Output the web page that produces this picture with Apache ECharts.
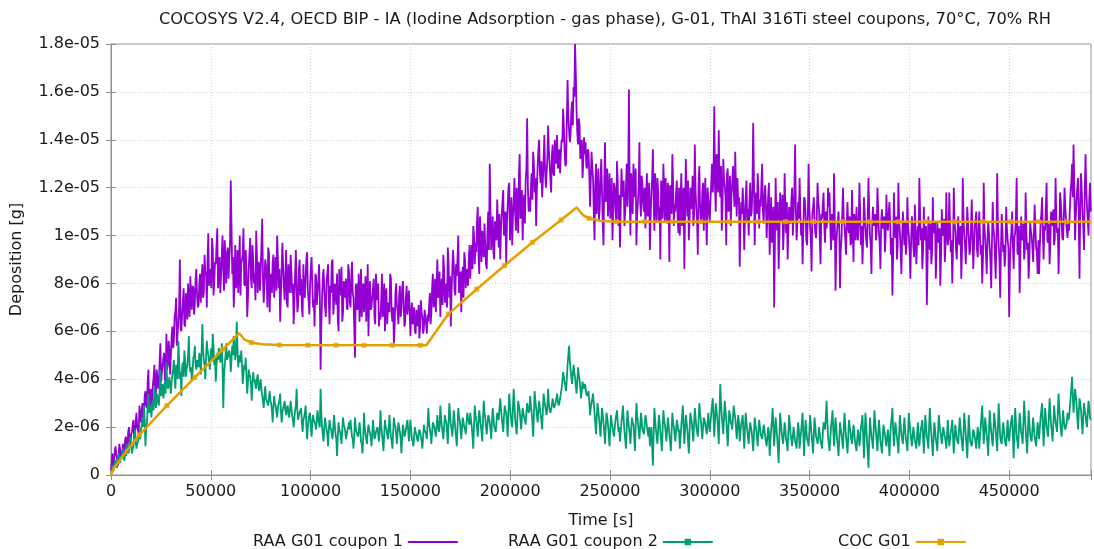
<!DOCTYPE html>
<html>
<head>
<meta charset="utf-8">
<script src="https://cdn.jsdelivr.net/npm/echarts@6/dist/echarts.min.js"></script>
<style>
html,body{margin:0;padding:0;background:#fff;}
#chart{width:1094px;height:549px;}
</style>
</head>
<body>
<div id="chart"></div>
<script>
// ---- data (deposition values in units of 1e-6 g) ----
const TITLE = 'COCOSYS V2.4, OECD BIP - IA (Iodine Adsorption - gas phase), G-01, ThAI 316Ti steel coupons, 70°C, 70% RH';
const X_NAME = 'Time [s]';
const Y_NAME = 'Deposition [g]';
const SERIES_NAMES = ['RAA G01 coupon 1', 'RAA G01 coupon 2', 'COC G01'];
const Y_TICK_LABELS = ['0','2e-06','4e-06','6e-06','8e-06','1e-05','1.2e-05','1.4e-05','1.6e-05','1.8e-05'];
const X_TICKS = [0,50000,100000,150000,200000,250000,300000,350000,400000,450000];
const SAMPLE_DT = 750; // s between samples of each array; the *_mid arrays sit half-way between

// coupon 1, samples at k*750 s
const raa1 = [
 0.2,0.9,0.4,1.2,0.7,0.5,1.1,0.8,1.3,1.0,1.6,1.2,2.0,1.4,1.8,2.3,1.6,2.6,1.9,2.9,
 2.2,3.0,2.6,3.5,2.8,4.4,3.1,2.7,3.8,4.6,3.4,4.1,3.8,5.5,4.3,4.9,4.0,5.9,4.6,5.2,
 5.0,6.2,5.6,6.8,5.4,6.4,9.0,6.0,7.2,6.3,7.6,6.5,7.1,8.3,6.9,7.8,7.2,8.6,7.0,8.0,
 7.2,8.8,7.6,8.4,7.0,10.1,8.2,7.8,9.4,8.1,8.8,10.3,8.4,7.6,9.2,8.6,9.8,8.0,9.5,8.9,
 12.3,8.4,7.0,9.6,8.2,7.6,10.0,8.8,9.2,8.0,9.4,6.6,8.6,9.9,7.8,9.0,8.4,10.2,7.6,8.8,
 8.6,10.7,7.2,9.0,8.1,9.5,6.8,8.4,8.9,7.4,9.1,10.0,7.8,6.4,8.6,8.7,7.3,9.4,7.0,8.2,
 9.2,7.6,6.3,8.4,7.9,7.1,9.0,8.2,6.6,7.8,8.2,9.3,7.3,8.0,9.1,7.0,6.2,8.3,7.6,8.8,
 4.4,7.4,8.6,7.0,8.1,8.8,6.3,7.6,9.0,7.2,8.0,8.4,6.0,7.5,8.7,6.8,7.9,8.2,6.9,8.5,
 7.0,8.9,7.4,4.9,8.0,7.1,6.4,8.6,7.6,6.8,8.3,7.2,5.8,8.1,7.0,7.8,6.6,8.4,7.3,6.2,
 6.5,8.4,7.2,6.0,7.8,7.0,6.8,8.2,6.4,5.5,7.6,7.1,6.3,7.9,6.9,8.1,6.2,7.4,6.7,7.7,
 5.8,7.2,6.4,6.0,6.9,6.2,5.7,7.3,6.6,6.1,6.9,5.9,6.4,7.6,6.8,8.4,7.2,6.8,9.0,7.6,
 6.6,8.2,9.2,7.2,8.0,9.5,7.4,6.2,8.6,8.8,7.5,8.3,10.0,7.9,6.8,8.7,9.3,7.8,8.4,9.0,
 8.2,9.6,10.4,8.8,9.3,11.2,8.4,9.9,10.2,9.1,9.6,8.6,11.0,13.0,9.4,10.8,9.0,10.1,11.5,9.5,
 9.0,10.8,11.9,10.2,8.8,11.3,12.2,10.6,9.6,11.4,10.9,12.0,10.1,13.4,11.2,9.8,11.7,12.3,14.9,11.0,
 11.0,12.6,13.5,11.8,10.4,12.9,14.0,12.2,11.6,13.2,12.7,12.0,14.6,13.0,11.8,13.8,12.5,13.4,14.2,12.9,
 12.6,14.0,15.3,13.6,13.0,16.5,14.4,14.2,15.6,16.2,18.0,15.2,13.8,14.6,13.4,12.4,14.1,13.9,12.8,13.5,
 11.2,13.5,12.4,9.8,13.0,11.6,10.6,12.4,11.9,9.6,13.9,12.0,10.8,12.6,11.4,9.8,12.2,11.0,13.1,10.4,
 9.5,12.8,11.6,10.4,12.0,11.2,16.1,10.0,11.8,13.0,12.2,9.6,11.4,13.9,10.8,12.2,11.0,10.3,12.6,11.5,
 9.4,11.8,13.6,10.2,11.5,12.4,10.6,9.0,11.9,13.0,10.6,11.2,12.2,8.9,11.7,13.4,10.4,11.0,12.3,10.1,
 10.0,12.6,11.3,8.6,13.2,10.8,9.8,12.0,11.4,10.4,13.8,11.1,9.2,12.9,10.6,11.8,10.2,12.4,9.6,11.6,
 10.6,12.2,11.8,15.4,11.0,13.0,14.4,11.6,10.2,13.2,12.1,9.6,12.8,11.4,10.4,12.2,11.9,13.5,10.8,11.3,
 8.7,11.4,12.0,9.4,11.6,10.6,10.0,12.2,11.0,14.7,9.6,11.8,12.6,10.3,11.2,13.0,10.5,12.1,9.9,11.6,
 9.2,11.6,10.4,7.0,12.4,10.2,8.6,11.8,10.7,9.4,12.6,10.1,9.0,11.2,10.5,12.0,10.9,13.8,9.8,11.4,
 12.4,10.0,8.8,11.6,10.9,9.6,13.0,10.4,8.5,11.2,10.6,9.9,12.2,11.1,8.8,10.7,11.8,9.7,10.3,12.0,
 11.8,9.4,10.6,12.6,7.7,10.2,11.0,7.8,9.9,12.0,10.4,9.2,11.4,10.1,9.6,11.9,8.9,10.5,11.2,9.8,
 12.2,9.6,8.8,11.6,10.3,9.5,12.4,10.0,8.4,11.2,10.6,9.8,12.0,10.1,8.6,11.1,10.4,9.3,11.7,10.2,
 11.4,9.2,7.5,11.8,9.9,9.0,12.2,10.1,8.4,11.0,9.6,9.2,11.6,10.0,8.2,10.8,9.5,11.3,8.8,10.4,
 12.4,9.8,8.6,11.2,10.0,7.1,10.8,9.4,8.8,11.6,10.2,8.2,10.6,9.7,7.9,11.1,10.3,8.9,11.8,9.6,
 11.8,9.3,8.0,12.0,10.2,9.0,10.8,9.6,8.2,12.4,10.0,8.8,11.2,9.9,9.4,11.5,8.6,10.4,11.0,9.1,
 11.0,9.2,8.0,12.2,9.8,8.4,10.6,9.5,7.8,11.4,10.0,8.2,12.6,9.6,7.4,10.9,9.3,8.7,11.2,9.8,
 6.6,9.7,11.0,8.6,10.1,12.4,9.2,7.6,10.8,9.9,9.0,11.8,9.4,8.2,10.6,10.0,8.9,11.3,9.5,8.4,
 8.4,10.6,11.6,9.0,10.2,12.2,9.7,8.8,11.0,10.4,9.6,12.4,10.1,8.4,11.8,10.7,9.8,12.0,10.6,9.9,
 10.2,11.8,13.0,13.8,9.8,11.5,12.4,8.2,12.6,10.9,9.4,13.4,11.2,10.0,12.2
];
// coupon 1, samples at k*750+375 s
const raa1_mid = [
 0.6,0.3,1.0,0.9,0.4,1.3,0.7,1.0,0.9,1.5,1.1,1.8,1.3,1.7,2.1,1.5,2.2,2.0,1.7,2.5,
 2.7,2.4,3.3,2.9,3.9,2.6,3.6,3.2,4.1,3.0,4.4,3.6,4.8,3.9,4.6,5.1,3.8,4.4,5.6,4.2,
 5.8,5.3,6.6,7.4,5.9,7.0,6.1,6.7,7.8,6.2,7.0,8.0,6.6,7.4,7.9,6.7,8.2,7.5,7.1,8.4,
 8.0,7.4,9.2,8.5,9.0,7.9,8.6,9.9,7.5,8.9,9.6,7.8,9.1,8.3,10.0,7.7,8.7,9.3,8.2,9.7,
 10.4,9.1,8.1,7.8,9.4,8.6,7.5,9.0,10.3,7.9,8.5,7.4,9.3,8.2,9.6,8.0,7.3,9.1,8.9,7.7,
 9.6,8.3,7.9,8.8,7.0,9.3,8.0,7.6,9.2,8.4,7.7,9.0,8.6,7.5,9.7,7.9,8.3,7.2,8.8,7.6,
 8.5,8.0,7.2,9.4,6.8,8.6,7.5,7.0,8.8,7.4,9.0,7.7,6.7,8.6,7.9,7.3,8.4,7.1,8.1,7.5,
 6.2,8.3,7.7,6.6,8.4,7.3,7.9,8.9,6.7,8.0,7.1,6.5,8.6,7.7,6.4,8.1,7.4,7.0,8.8,7.2,
 8.2,7.6,6.1,7.9,6.9,8.4,7.3,6.6,8.0,7.5,6.4,8.8,7.6,6.9,7.4,8.2,6.3,7.7,8.0,6.8,
 7.3,6.6,8.0,7.5,6.3,7.2,8.4,6.7,7.0,6.2,8.0,6.8,7.5,6.6,7.8,7.2,6.4,7.9,7.1,6.9,
 6.7,6.3,7.0,5.9,6.6,7.1,6.2,6.8,5.9,6.9,6.3,6.7,7.1,6.3,7.8,7.0,8.2,7.9,7.4,8.5,
 7.8,7.1,8.6,8.0,7.0,8.9,8.3,7.6,9.4,7.7,8.8,9.1,7.6,8.5,8.2,7.4,9.0,8.6,7.9,9.6,
 9.0,8.6,10.0,9.7,10.6,9.2,10.8,8.9,9.6,10.5,8.8,10.2,9.4,11.0,10.0,9.3,10.6,9.8,10.4,10.9,
 10.2,11.4,10.0,11.0,10.5,12.0,9.8,11.6,10.8,12.4,10.2,11.2,12.6,10.7,11.9,11.3,10.5,12.8,12.0,11.6,
 12.0,11.5,13.0,12.4,11.9,13.6,12.6,13.1,12.3,14.2,12.0,13.2,13.6,12.4,13.3,12.6,14.0,13.0,12.8,13.6,
 13.4,13.9,14.6,12.9,14.8,15.0,13.9,15.2,14.6,15.8,16.8,14.3,14.9,13.2,14.0,13.1,13.4,12.9,13.6,12.6,
 12.3,12.9,11.0,12.1,10.9,12.8,11.2,13.2,10.5,12.2,11.4,12.8,11.6,10.7,12.4,11.1,12.0,10.6,12.3,11.7,
 11.1,11.9,12.3,11.0,13.0,12.4,11.5,12.6,10.9,11.6,12.8,10.9,12.1,11.4,12.5,11.3,12.0,11.7,10.8,12.2,
 10.8,12.4,11.5,12.6,10.6,11.9,11.2,12.3,10.7,11.8,12.4,10.5,11.6,12.1,10.9,12.2,11.3,11.8,10.8,12.0,
 11.6,10.4,12.0,10.9,11.7,12.3,10.6,11.1,12.5,10.8,11.9,10.7,12.1,11.3,10.5,12.2,11.5,10.8,12.0,10.9,
 11.5,13.0,12.6,12.0,13.4,11.8,12.2,12.9,11.1,12.4,11.6,12.6,11.0,12.5,11.7,12.9,11.2,12.0,12.4,11.6,
 10.5,10.9,11.2,10.6,12.3,11.1,11.5,10.8,12.0,12.4,11.3,10.9,11.8,11.5,12.2,11.0,11.6,11.3,10.8,12.2,
 10.4,9.7,11.2,9.6,10.8,11.4,9.9,10.6,11.7,10.3,11.0,11.4,10.2,10.8,11.5,10.0,11.9,11.1,10.5,10.7,
 11.0,10.6,10.3,11.5,9.8,10.8,11.3,9.9,10.9,11.6,10.1,10.8,11.4,9.8,10.9,11.3,10.4,11.0,10.6,11.2,
 10.4,10.9,9.8,10.8,9.6,10.6,10.3,9.4,10.9,10.7,9.9,10.6,10.3,10.8,9.7,10.4,10.9,9.8,10.3,10.6,
 10.8,10.4,9.9,10.9,9.8,10.7,11.0,9.6,10.5,10.4,10.9,10.2,11.1,9.7,10.6,10.3,10.8,10.0,10.5,10.9,
 10.6,9.9,9.2,10.4,10.8,9.5,10.7,9.4,9.9,10.3,10.6,9.7,10.4,9.3,9.8,10.5,9.1,10.2,9.9,9.6,
 10.9,10.3,9.4,9.8,10.4,8.9,9.9,10.5,9.3,10.1,10.6,9.5,9.9,10.3,9.2,10.0,10.7,9.6,10.2,9.9,
 10.4,9.8,9.5,10.6,9.4,10.1,9.7,10.4,9.3,10.8,9.6,9.9,10.5,9.2,10.3,10.1,9.5,10.6,9.4,10.2,
 10.0,9.6,9.0,10.4,9.2,9.8,10.1,8.9,9.7,10.3,9.1,9.8,10.5,9.0,9.4,10.2,9.6,9.2,10.3,9.5,
 8.8,10.2,9.6,9.9,10.8,9.3,10.4,9.2,9.8,10.5,9.4,10.1,9.7,9.0,10.2,9.5,9.9,10.4,9.3,9.8,
 9.6,10.9,10.1,10.4,11.2,9.8,10.5,9.6,10.8,11.1,9.9,10.7,10.3,10.0,11.4,9.9,10.8,11.2,10.2,10.6,
 11.0,12.2,11.6,12.1,10.8,12.0,10.6,11.3,11.9,10.4,11.8,12.0,10.6,11.5,11.0
];

// coupon 2, samples at k*750 s
const raa2 = [
 0.1,0.4,0.2,0.6,0.3,0.9,0.5,0.7,1.1,0.6,0.8,1.3,1.0,1.6,0.9,1.2,1.9,1.1,1.4,1.7,
 1.9,2.4,2.9,1.2,2.2,3.4,2.6,2.4,3.1,3.7,2.8,3.3,2.9,4.4,3.4,3.2,3.9,4.7,3.6,4.1,
 3.4,4.2,4.8,3.6,4.4,5.6,4.0,3.3,4.7,5.2,4.1,4.6,5.8,4.3,3.9,4.9,5.4,4.4,4.8,5.1,
 4.2,6.3,4.8,4.0,5.6,5.0,4.4,5.3,5.9,4.6,3.9,5.1,5.3,4.7,5.5,2.8,4.6,5.5,4.9,5.2,
 4.3,5.4,5.8,4.8,6.4,4.5,5.0,5.2,3.8,4.6,4.9,3.4,4.4,4.1,3.1,4.3,4.0,3.6,4.2,3.5,
 4.0,3.3,2.8,3.7,3.2,2.9,3.5,3.0,2.2,3.3,2.9,2.4,3.0,3.4,2.2,2.8,3.1,2.5,2.9,2.4,
 3.1,2.5,2.0,2.7,3.6,2.3,2.6,2.8,1.8,2.4,2.9,1.5,2.3,2.6,1.6,2.5,2.2,1.9,2.7,2.1,
 3.6,2.0,1.4,2.4,2.1,1.2,2.3,1.9,1.5,2.5,1.7,0.8,2.2,1.8,1.3,2.4,2.0,1.5,1.9,2.2,
 2.3,1.6,1.1,2.4,1.8,1.6,2.2,1.4,0.9,2.6,1.7,1.3,2.1,1.9,1.2,2.3,1.5,1.8,2.0,1.4,
 2.7,1.7,1.0,2.3,1.9,1.5,2.5,1.6,1.1,2.4,2.0,1.3,2.2,1.8,0.9,2.1,1.6,1.9,2.3,1.4,
 2.3,1.5,1.2,2.0,1.7,1.4,1.9,1.6,1.1,2.1,1.8,1.5,2.8,1.9,1.3,2.2,2.0,1.6,2.5,1.8,
 2.9,2.0,1.5,2.5,2.2,1.3,3.0,2.1,1.6,2.7,1.9,1.2,2.8,2.3,1.5,2.4,2.0,1.7,2.6,2.2,
 2.6,2.0,1.1,2.9,2.3,1.6,2.7,2.1,1.4,3.1,2.4,1.7,2.5,2.2,1.5,2.8,2.0,1.8,2.6,2.3,
 3.2,2.4,1.8,2.9,2.6,1.6,3.4,2.5,2.0,3.6,2.3,1.7,3.1,2.7,1.9,2.8,2.4,2.1,3.0,2.6,
 3.3,2.6,1.6,3.5,2.8,2.2,3.1,2.5,1.9,3.4,2.9,2.5,3.6,2.7,2.6,3.2,2.8,3.0,3.4,2.9,
 3.2,3.6,4.3,3.9,3.5,4.6,5.4,4.4,3.8,4.6,4.1,3.4,4.5,4.0,3.2,3.9,3.6,3.7,3.3,3.5,
 2.5,3.0,3.4,2.6,1.7,3.0,2.4,1.6,2.8,2.2,1.3,2.6,2.1,1.2,2.5,2.0,1.6,2.3,2.7,1.8,
 1.4,2.2,2.9,1.8,1.1,2.7,2.0,1.3,2.4,2.1,1.0,3.0,2.2,1.5,2.6,1.9,1.7,2.5,2.0,1.6,
 1.2,2.0,0.4,2.8,1.9,1.3,2.5,1.8,1.0,2.7,2.1,1.4,2.4,1.7,1.0,2.6,2.0,1.4,2.3,1.8,
 1.1,2.1,2.9,1.3,2.5,1.9,0.9,2.6,2.2,1.4,2.8,2.0,1.6,3.0,2.3,1.5,2.4,2.1,1.7,2.6,
 1.8,2.6,3.2,1.6,3.0,2.4,1.3,3.8,2.5,1.7,3.1,2.3,1.2,2.7,2.2,1.9,2.9,2.4,1.5,2.5,
 1.4,2.1,2.5,1.1,2.6,1.9,1.3,2.2,1.8,1.0,2.4,1.9,1.2,2.3,1.7,1.5,2.1,1.6,1.2,2.0,
 0.8,1.9,2.8,1.2,2.4,1.6,0.5,2.6,1.8,1.3,2.2,1.5,1.0,2.5,1.7,1.2,2.0,1.4,1.1,2.2,
 1.1,1.8,2.6,0.8,2.3,1.5,1.2,2.5,1.7,0.9,2.4,1.6,1.3,2.0,1.4,1.1,2.2,1.9,3.1,1.6,
 1.0,2.0,2.7,1.2,2.4,1.5,0.8,2.2,1.7,1.1,2.6,1.6,0.9,2.3,1.8,1.3,2.1,1.4,1.0,1.9,
 1.2,2.0,2.5,0.7,2.6,1.5,0.3,2.4,1.6,1.1,2.7,1.8,1.0,2.3,1.4,0.9,2.1,1.7,1.2,1.9,
 0.8,2.1,2.8,1.2,2.2,1.6,0.9,2.5,1.7,1.3,2.4,1.5,1.0,2.6,1.8,1.2,2.0,1.4,1.1,2.2,
 1.2,1.9,2.3,0.9,2.5,1.6,1.1,2.8,1.7,0.8,2.2,1.5,1.0,2.5,1.8,1.3,2.0,1.6,1.1,2.3,
 1.2,1.8,2.3,0.9,2.1,1.5,1.3,2.4,1.6,1.0,2.6,1.7,0.7,2.5,1.4,1.2,1.9,1.6,1.1,2.0,
 1.1,2.0,2.9,1.3,2.4,1.7,0.8,2.7,1.8,1.2,2.6,1.9,1.0,3.0,1.6,1.3,2.2,1.5,1.2,2.3,
 1.4,2.1,2.5,0.7,2.8,1.6,1.1,2.6,1.8,1.3,3.1,1.9,0.9,2.7,1.7,1.4,2.4,1.6,1.2,2.2,
 1.5,2.4,3.0,1.2,2.8,2.0,1.6,3.2,2.1,1.4,2.9,2.2,1.8,3.4,2.3,1.6,2.7,2.0,1.9,2.6,
 2.4,3.2,4.1,2.6,3.6,3.0,1.9,3.2,2.7,1.7,3.0,2.5,2.0,3.1,2.4
];
// coupon 2, samples at k*750+375 s
const raa2_mid = [
 0.2,0.3,0.5,0.4,0.7,0.6,0.8,0.9,0.7,1.0,1.1,0.9,1.3,1.2,1.1,1.5,1.4,1.3,1.6,1.5,
 2.1,2.0,2.3,1.9,2.8,2.6,2.9,3.0,2.7,3.2,3.4,3.0,3.6,3.3,3.8,3.5,3.4,4.0,3.8,3.7,
 3.9,4.4,4.1,4.6,4.0,4.8,4.3,4.5,4.1,4.8,4.4,5.0,4.6,4.5,4.3,5.0,4.6,4.8,4.5,4.9,
 5.1,5.3,4.6,4.9,5.2,4.7,5.0,4.8,5.3,4.9,4.6,4.8,5.1,4.8,4.6,4.2,5.0,4.8,5.1,5.0,
 4.8,5.0,5.4,5.1,5.3,4.9,4.7,4.6,4.2,4.4,4.1,3.9,4.2,3.8,3.8,3.9,3.7,4.0,3.8,3.8,
 3.6,3.1,3.3,3.2,3.0,3.2,3.1,2.7,2.8,3.0,2.6,2.8,3.1,2.7,2.6,2.9,2.7,2.8,2.6,2.7,
 2.8,2.3,2.4,2.9,2.7,2.5,2.6,2.2,2.3,2.6,2.1,2.0,2.5,2.0,2.2,2.3,2.1,2.4,2.3,2.0,
 2.6,1.7,2.0,2.1,1.7,1.9,2.0,1.7,2.0,2.1,1.5,1.6,1.9,1.6,1.9,2.1,1.8,1.7,2.0,1.9,
 1.9,1.5,1.7,2.0,1.7,1.8,1.9,1.3,1.6,2.0,1.5,1.8,1.9,1.6,1.7,1.9,1.6,1.9,1.7,1.8,
 2.1,1.4,1.7,2.0,1.7,1.9,2.0,1.4,1.8,2.1,1.7,1.8,2.0,1.5,1.6,1.9,1.7,2.1,1.9,1.8,
 1.9,1.4,1.6,1.8,1.5,1.7,1.8,1.4,1.6,1.9,1.7,2.1,2.2,1.7,1.8,2.1,1.8,2.0,2.1,2.0,
 2.4,1.8,2.0,2.3,1.8,2.2,2.5,1.9,2.1,2.3,1.6,2.0,2.4,1.9,2.0,2.2,1.9,2.2,2.4,2.1,
 2.3,1.6,2.1,2.5,2.0,2.2,2.4,1.8,2.3,2.6,2.0,2.1,2.4,1.9,2.2,2.4,1.9,2.2,2.5,2.3,
 2.8,2.1,2.4,2.7,2.2,2.6,2.9,2.2,2.8,3.0,2.0,2.4,2.9,2.3,2.4,2.6,2.3,2.6,2.8,2.7,
 2.9,2.2,2.5,3.1,2.5,2.7,2.8,2.3,2.7,3.1,2.7,2.9,3.0,2.6,2.9,3.0,2.9,3.2,3.1,3.0,
 3.4,3.9,4.1,3.7,4.0,5.0,4.8,4.1,4.2,4.3,3.7,3.9,4.2,3.6,3.5,3.7,3.8,3.4,3.4,3.1,
 2.8,3.2,3.0,2.2,2.4,2.7,2.0,2.2,2.5,1.8,2.0,2.4,1.7,1.9,2.2,1.8,2.0,2.5,2.2,2.0,
 1.8,2.5,2.3,1.5,1.9,2.3,1.7,1.9,2.2,1.6,2.1,2.5,1.8,2.0,2.3,1.8,2.1,2.3,1.8,2.0,
 1.6,1.2,1.7,2.3,1.6,1.9,2.2,1.4,1.9,2.3,1.8,1.9,2.1,1.4,1.8,2.2,1.7,1.9,2.1,1.9,
 1.6,2.5,2.0,1.9,2.2,1.4,1.8,2.4,1.8,2.1,2.4,1.8,2.3,2.6,1.9,2.0,2.3,1.9,2.2,2.1,
 2.2,2.9,2.4,2.3,2.7,1.9,2.6,3.0,2.1,2.4,2.7,1.8,2.0,2.5,2.1,2.4,2.6,2.0,2.0,2.2,
 1.8,2.3,1.8,1.9,2.2,1.6,1.8,2.0,1.4,1.7,2.1,1.6,1.8,2.0,1.6,1.8,1.9,1.4,1.6,1.8,
 1.4,2.3,2.0,1.8,2.0,1.1,1.6,2.2,1.5,1.7,1.9,1.3,1.8,2.1,1.5,1.6,1.7,1.3,1.7,1.9,
 1.5,2.2,1.7,1.6,1.9,1.4,1.8,2.1,1.3,1.7,2.0,1.5,1.6,1.7,1.3,1.7,2.0,2.4,2.3,1.3,
 1.5,2.3,1.9,1.8,2.0,1.2,1.5,1.9,1.4,1.9,2.1,1.3,1.6,2.0,1.5,1.7,1.8,1.2,1.5,1.6,
 1.6,2.2,1.6,1.7,2.0,0.9,1.4,2.0,1.4,1.9,2.2,1.4,1.7,1.9,1.2,1.5,1.9,1.4,1.6,1.5,
 1.5,2.4,1.9,1.7,1.9,1.3,1.7,2.1,1.5,1.9,1.9,1.3,1.8,2.2,1.5,1.6,1.7,1.3,1.7,1.5,
 1.6,2.1,1.6,1.7,2.0,1.4,2.0,2.2,1.3,1.5,1.9,1.3,1.8,2.1,1.6,1.7,1.8,1.4,1.7,1.6,
 1.5,2.0,1.6,1.5,1.8,1.4,1.9,2.0,1.3,1.8,2.1,1.2,1.6,1.9,1.3,1.5,1.8,1.4,1.6,1.7,
 1.6,2.5,2.1,1.8,2.0,1.3,1.8,2.2,1.5,1.9,2.2,1.4,2.0,2.3,1.4,1.8,1.9,1.3,1.8,1.6,
 1.8,2.3,1.6,1.8,2.2,1.4,1.9,2.2,1.6,2.2,2.5,1.4,1.8,2.2,1.5,1.9,2.0,1.4,1.7,1.9,
 2.0,2.7,2.1,2.0,2.4,1.8,2.4,2.6,1.8,2.1,2.5,2.0,2.6,2.8,1.9,2.1,2.3,1.9,2.2,2.3,
 2.8,3.6,3.3,3.1,3.3,2.4,2.6,3.0,2.2,2.4,2.7,2.2,2.6,2.8,2.3
];

// COC G01 curve vertices [time s, deposition 1e-6 g]
const cocT = [0,1500,4500,8000,14200,28000,42000,56200,64200,67000,70300,76000,84500,158000,169000,183200,197200,211200,225500,233300,236500,239500,245000,253200,491000];
const cocY = [0,0.30,0.63,1.02,1.67,2.90,4.08,5.26,5.92,5.65,5.53,5.46,5.43,5.42,6.72,7.76,8.75,9.72,10.65,11.17,10.85,10.72,10.62,10.58,10.58];
// COC G01 point markers as plotted
const cocMarkT = [14200,28000,42000,56200,70300,84500,98600,112700,126800,140900,155000,169000,183200,197200,211200,225500,239500,253200,267400,281400,295500,309500,324000,338000,352000,366200,380300,394300,408300,422500,436600,450800,464600,478800];
const cocMarkY = [1.67,2.90,4.08,5.26,5.53,5.43,5.42,5.42,5.42,5.42,5.42,6.72,7.76,8.75,9.72,10.65,10.72,10.58,10.58,10.58,10.58,10.58,10.58,10.58,10.58,10.58,10.58,10.58,10.58,10.58,10.58,10.58,10.58,10.58];

// ---- build ----
const COLORS = ['#9400d3', '#009e73', '#e69f00'];
const FONT = 'DejaVu Sans';
function merge(a, b) {
  const out = [];
  a.forEach((v, i) => {
    out.push([i * SAMPLE_DT, v]);
    if (i < b.length) out.push([i * SAMPLE_DT + SAMPLE_DT / 2, b[i]]);
  });
  return out;
}
const d1 = merge(raa1, raa1_mid);
const d2 = merge(raa2, raa2_mid);
const d3 = cocT.map((t, i) => [t, cocY[i]]);
const dm = cocMarkT.map((t, i) => [t, cocMarkY[i]]);

const chart = echarts.init(document.getElementById('chart'), null, {renderer: 'canvas'});
const gridLine = {show: true, lineStyle: {color: '#d4d4d4', type: [1, 2], width: 1}};
const axisCol = '#909090';
const txtCol = '#1a1a1a';
const plusPath = 'path://M0,-5L0,5M-5,0L5,0';

chart.setOption({
  animation: false,
  backgroundColor: '#ffffff',
  title: {
    text: TITLE, left: 600, top: 7, textAlign: 'center',
    textStyle: {fontFamily: FONT, fontSize: 16.3, fontWeight: 'normal', color: txtCol}
  },
  legend: [0, 1, 2].map(k => ({
    data: [{name: SERIES_NAMES[k]}],
    left: [248, 503, 833][k], top: 529,
    align: 'right', itemWidth: 50, itemHeight: 8,
    textStyle: {fontFamily: FONT, fontSize: 16, color: txtCol},
    selectedMode: false
  })),
  grid: {left: 111, right: 1, top: 44, bottom: 74, show: true, borderColor: axisCol, borderWidth: 1},
  xAxis: [{
    type: 'value', min: 0, max: 491000, interval: 50000,
    name: X_NAME, nameLocation: 'middle', nameGap: 38,
    nameTextStyle: {fontFamily: FONT, fontSize: 16, color: txtCol},
    axisLine: {show: true, lineStyle: {color: axisCol}},
    axisTick: {show: true, inside: true, length: 5, lineStyle: {color: axisCol}},
    axisLabel: {fontFamily: FONT, fontSize: 16, color: txtCol, margin: 9,
      formatter: v => { const i = X_TICKS.indexOf(v); return i >= 0 ? String(X_TICKS[i]) : ''; }},
    splitLine: gridLine
  }, {
    type: 'value', position: 'top', min: 0, max: 491000, interval: 50000,
    axisLine: {show: false}, axisLabel: {show: false}, splitLine: {show: false},
    axisTick: {show: true, inside: true, length: 5, lineStyle: {color: axisCol}}
  }],
  yAxis: [{
    type: 'value', min: 0, max: 18, interval: 2,
    name: Y_NAME, nameLocation: 'middle', nameGap: 86, nameRotate: 90,
    nameTextStyle: {fontFamily: FONT, fontSize: 16, color: txtCol},
    axisLine: {show: true, lineStyle: {color: axisCol}},
    axisTick: {show: true, inside: true, length: 5, lineStyle: {color: axisCol}},
    axisLabel: {fontFamily: FONT, fontSize: 16, color: txtCol, margin: 11,
      formatter: v => Y_TICK_LABELS[Math.round(v / 2)] || ''},
    splitLine: gridLine
  }, {
    type: 'value', position: 'right', min: 0, max: 18, interval: 2,
    axisLine: {show: false}, axisLabel: {show: false}, splitLine: {show: false},
    axisTick: {show: true, inside: true, length: 5, lineStyle: {color: axisCol}}
  }],
  series: [
    {name: SERIES_NAMES[0], type: 'line', data: d1, showSymbol: false, symbol: plusPath, symbolSize: 7,
     itemStyle: {color: COLORS[0], borderColor: COLORS[0]}, lineStyle: {color: COLORS[0], width: 1.8}, z: 2},
    {name: SERIES_NAMES[1], type: 'line', data: d2, showSymbol: false, symbol: 'rect', symbolSize: 5,
     itemStyle: {color: COLORS[1]}, lineStyle: {color: COLORS[1], width: 1.8}, z: 3},
    {name: SERIES_NAMES[2], type: 'line', data: d3, showSymbol: false, symbol: 'rect', symbolSize: 6,
     itemStyle: {color: COLORS[2]}, lineStyle: {color: COLORS[2], width: 2.5}, z: 4},
    {name: 'COC markers', type: 'scatter', data: dm, symbol: 'rect', symbolSize: 5,
     itemStyle: {color: COLORS[2]}, z: 5}
  ]
});
</script>
</body>
</html>
